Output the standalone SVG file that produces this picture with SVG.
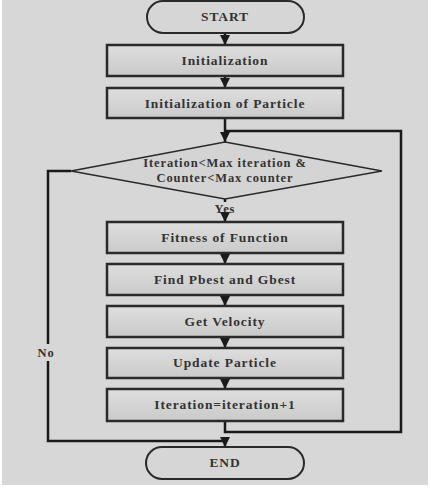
<svg xmlns="http://www.w3.org/2000/svg" width="431" height="493" viewBox="0 0 431 493">
<defs>
<linearGradient id="g" x1="0" y1="0" x2="0" y2="1">
<stop offset="0" stop-color="#dedede"/>
<stop offset="1" stop-color="#cacaca"/>
</linearGradient>
<marker id="ah" viewBox="0 0 10 10" refX="10" refY="5" markerWidth="4" markerHeight="4" orient="auto" markerUnits="strokeWidth">
<path d="M0,0 L10,5 L0,10 Z" fill="#1a1a1a"/>
</marker>
<style>
.box{fill:url(#g);stroke:#2a2a2a;stroke-width:2.5}
.term{fill:#d6d6d6;stroke:#2a2a2a;stroke-width:2}
.t{font-family:"Liberation Serif",serif;font-weight:bold;font-size:13.5px;letter-spacing:0.9px;fill:#333;text-anchor:middle}
.s{font-size:12.5px}
.c{fill:none;stroke:#1a1a1a;stroke-width:2.5}
</style>
</defs>
<rect x="0" y="0" width="431" height="493" fill="#ffffff"/>
<rect x="2" y="0" width="426" height="485" fill="#d7d7d7"/>
<g id="connectors">
<line class="c" x1="225" y1="33" x2="225" y2="45" marker-end="url(#ah)"/>
<line class="c" x1="225" y1="76" x2="225" y2="88" marker-end="url(#ah)"/>
<line class="c" x1="225" y1="118" x2="225" y2="142" marker-end="url(#ah)"/>
<polyline class="c" points="225,421 225,432 401,432 401,131 225,131"/>
<line class="c" x1="225" y1="199" x2="225" y2="202"/>
<line class="c" x1="225" y1="216" x2="225" y2="222" marker-end="url(#ah)"/>
<line class="c" x1="225" y1="253" x2="225" y2="264" marker-end="url(#ah)"/>
<line class="c" x1="225" y1="295" x2="225" y2="306" marker-end="url(#ah)"/>
<line class="c" x1="225" y1="337" x2="225" y2="348" marker-end="url(#ah)"/>
<line class="c" x1="225" y1="378" x2="225" y2="389" marker-end="url(#ah)"/>
<polyline class="c" points="71,171 48,171 48,344"/>
<polyline class="c" points="48,361 48,441 225,441 225,447" marker-end="url(#ah)"/>
<text class="t s" x="225" y="213">Yes</text>
<text class="t s" x="46" y="357">No</text>
</g>
<g id="start">
<rect class="term" x="147" y="1" width="157" height="32" rx="16" ry="16"/>
<text class="t" x="225" y="21">START</text>
</g>
<g id="init">
<rect class="box" x="107" y="45" width="236" height="31"/>
<text class="t" x="225" y="65">Initialization</text>
</g>
<g id="initp">
<rect class="box" x="107" y="88" width="236" height="30"/>
<text class="t" x="225" y="108">Initialization of Particle</text>
</g>
<g id="cond">
<polygon points="225,142 382,171 225,199 71,171" fill="#d4d4d4" stroke="#2a2a2a" stroke-width="1.5"/>
<text class="t s" x="225" y="167">Iteration&lt;Max iteration &amp;</text>
<text class="t s" x="225" y="182">Counter&lt;Max counter</text>
</g>
<g id="fitness">
<rect class="box" x="107" y="222" width="236" height="31"/>
<text class="t" x="225" y="242">Fitness of Function</text>
</g>
<g id="pbest">
<rect class="box" x="107" y="264" width="236" height="31"/>
<text class="t" x="225" y="284">Find Pbest and Gbest</text>
</g>
<g id="vel">
<rect class="box" x="107" y="306" width="236" height="31"/>
<text class="t" x="225" y="326">Get Velocity</text>
</g>
<g id="update">
<rect class="box" x="107" y="348" width="236" height="30"/>
<text class="t" x="225" y="367">Update Particle</text>
</g>
<g id="iter">
<rect class="box" x="107" y="389" width="236" height="32"/>
<text class="t" x="225" y="409">Iteration=iteration+1</text>
</g>
<g id="end">
<rect class="term" x="146" y="447" width="158" height="32" rx="16" ry="16"/>
<text class="t" x="225" y="467">END</text>
</g>
</svg>
